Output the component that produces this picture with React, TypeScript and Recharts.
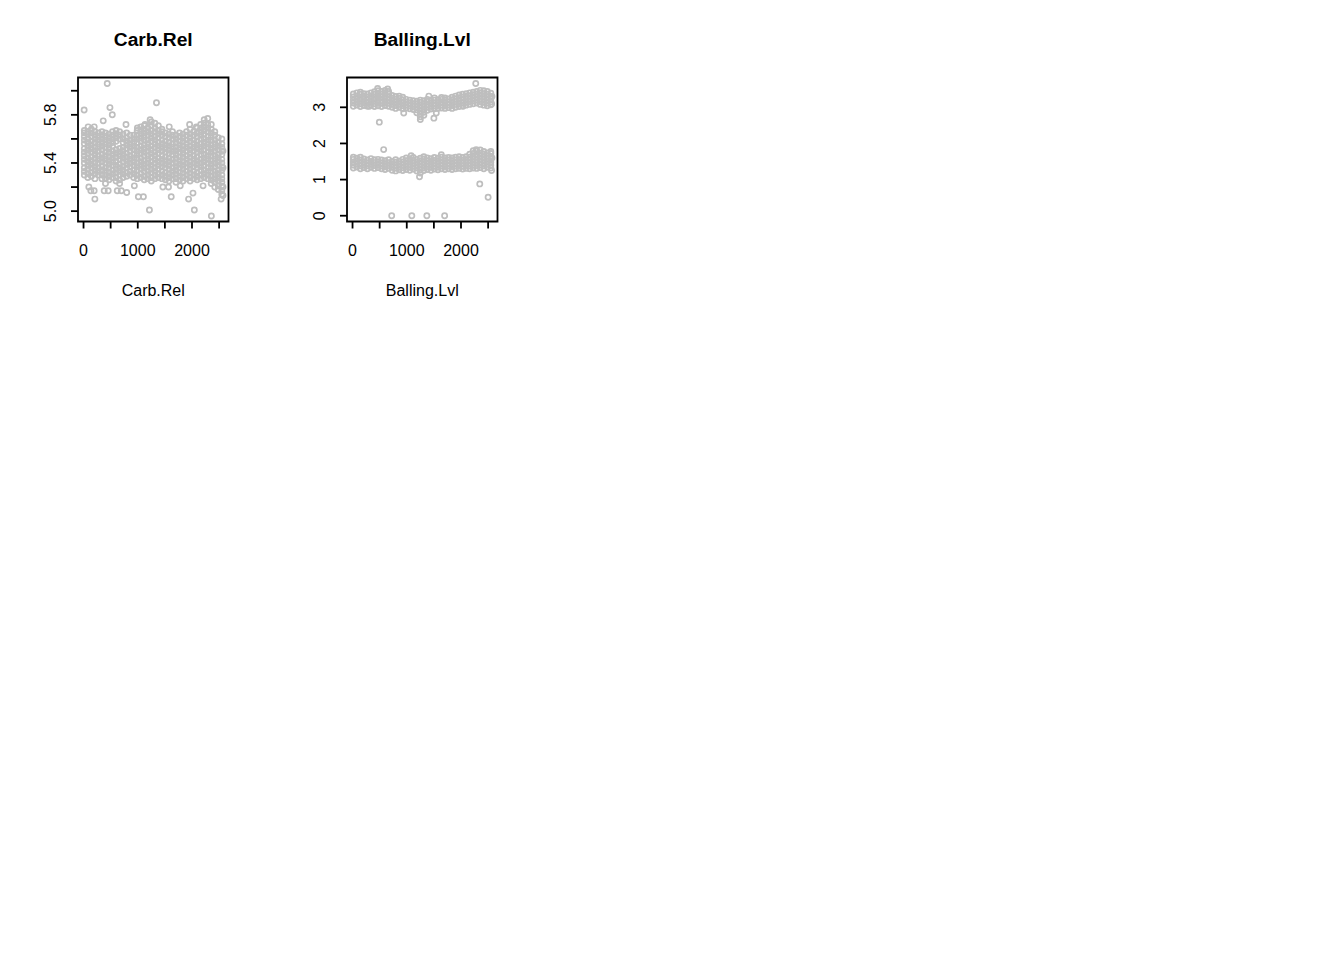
import React from "react"
import { ReferenceArea, Scatter, ScatterChart, XAxis, YAxis } from "recharts"

// row index of the observation (x) shared by both panels
const xTicks = [0, 500, 1000, 1500, 2000, 2500]
const xTickLabels = ["0", "", "1000", "", "2000", ""]
const xDomain: [number, number] = [-102, 2673]

// columns of the dense cloud: index position and the values stacked at it
const colIdx = [
  15, 80, 145, 210, 275, 340, 405, 470, 535, 600, 665, 730, 795, 860, 925, 990, 1055, 1120, 1185, 1250,
  1315, 1380, 1445, 1510, 1575, 1640, 1705, 1770, 1835, 1900, 1965, 2030, 2095, 2160, 2225, 2290, 2355,
  2420, 2485, 2550,
]

const carbCols = [
  [5.3, 5.33, 5.36, 5.4, 5.43, 5.46, 5.49, 5.52, 5.56, 5.59, 5.62, 5.65, 5.67],
  [5.28, 5.31, 5.35, 5.38, 5.41, 5.44, 5.48, 5.51, 5.54, 5.57, 5.6, 5.64, 5.66],
  [5.29, 5.32, 5.36, 5.39, 5.42, 5.45, 5.49, 5.52, 5.55, 5.58, 5.62, 5.65, 5.68],
  [5.27, 5.31, 5.34, 5.37, 5.4, 5.44, 5.47, 5.5, 5.53, 5.57, 5.6, 5.63, 5.66],
  [5.3, 5.33, 5.36, 5.4, 5.43, 5.46, 5.5, 5.53, 5.56, 5.59, 5.62, 5.65],
  [5.27, 5.3, 5.34, 5.37, 5.41, 5.44, 5.47, 5.51, 5.54, 5.57, 5.6, 5.63, 5.66],
  [5.23, 5.27, 5.3, 5.33, 5.36, 5.4, 5.43, 5.46, 5.49, 5.53, 5.56, 5.59, 5.62, 5.65],
  [5.26, 5.29, 5.32, 5.36, 5.39, 5.42, 5.45, 5.49, 5.52, 5.55, 5.58, 5.61, 5.64],
  [5.28, 5.31, 5.34, 5.38, 5.41, 5.44, 5.47, 5.5, 5.54, 5.57, 5.6, 5.63, 5.66],
  [5.25, 5.28, 5.32, 5.35, 5.38, 5.41, 5.45, 5.48, 5.51, 5.58, 5.61, 5.64, 5.67],
  [5.23, 5.26, 5.3, 5.33, 5.36, 5.39, 5.43, 5.46, 5.49, 5.52, 5.6, 5.63, 5.66],
  [5.28, 5.31, 5.34, 5.37, 5.41, 5.44, 5.47, 5.5, 5.53, 5.57, 5.6, 5.64],
  [5.29, 5.32, 5.36, 5.39, 5.42, 5.45, 5.48, 5.52, 5.55, 5.58, 5.61, 5.65],
  [5.3, 5.33, 5.37, 5.4, 5.43, 5.46, 5.5, 5.53, 5.56, 5.59, 5.63],
  [5.28, 5.31, 5.34, 5.38, 5.41, 5.44, 5.47, 5.51, 5.54, 5.57, 5.6, 5.63],
  [5.27, 5.3, 5.34, 5.37, 5.4, 5.44, 5.47, 5.5, 5.53, 5.57, 5.6, 5.63, 5.67],
  [5.28, 5.31, 5.35, 5.38, 5.41, 5.44, 5.48, 5.51, 5.54, 5.58, 5.61, 5.64, 5.67, 5.7],
  [5.26, 5.29, 5.33, 5.36, 5.39, 5.42, 5.46, 5.49, 5.52, 5.55, 5.59, 5.62, 5.65, 5.68, 5.71],
  [5.27, 5.3, 5.33, 5.37, 5.4, 5.43, 5.46, 5.5, 5.53, 5.56, 5.59, 5.63, 5.66, 5.69],
  [5.25, 5.28, 5.32, 5.35, 5.38, 5.41, 5.45, 5.48, 5.51, 5.54, 5.58, 5.61, 5.64, 5.67, 5.71, 5.74],
  [5.27, 5.3, 5.33, 5.36, 5.4, 5.43, 5.46, 5.49, 5.53, 5.56, 5.59, 5.62, 5.66, 5.69, 5.73],
  [5.28, 5.31, 5.35, 5.38, 5.41, 5.44, 5.48, 5.51, 5.54, 5.57, 5.61, 5.64, 5.67, 5.71],
  [5.27, 5.3, 5.33, 5.37, 5.4, 5.43, 5.46, 5.5, 5.53, 5.56, 5.59, 5.63, 5.66, 5.68],
  [5.26, 5.29, 5.32, 5.36, 5.39, 5.42, 5.45, 5.49, 5.52, 5.55, 5.58, 5.62, 5.65],
  [5.25, 5.28, 5.31, 5.35, 5.38, 5.41, 5.44, 5.48, 5.51, 5.54, 5.57, 5.61, 5.64],
  [5.27, 5.3, 5.33, 5.36, 5.4, 5.43, 5.47, 5.5, 5.53, 5.56, 5.6, 5.63, 5.66],
  [5.24, 5.27, 5.31, 5.34, 5.37, 5.4, 5.44, 5.47, 5.5, 5.53, 5.57, 5.6, 5.63],
  [5.26, 5.29, 5.32, 5.36, 5.39, 5.42, 5.45, 5.49, 5.52, 5.55, 5.58, 5.62, 5.65],
  [5.25, 5.28, 5.32, 5.35, 5.38, 5.41, 5.45, 5.48, 5.51, 5.54, 5.58, 5.61, 5.64],
  [5.27, 5.3, 5.33, 5.37, 5.4, 5.43, 5.46, 5.5, 5.53, 5.56, 5.59, 5.63, 5.66],
  [5.25, 5.28, 5.32, 5.35, 5.38, 5.41, 5.45, 5.48, 5.51, 5.54, 5.58, 5.61, 5.64, 5.68],
  [5.27, 5.3, 5.33, 5.37, 5.4, 5.43, 5.46, 5.5, 5.53, 5.56, 5.59, 5.63, 5.66],
  [5.26, 5.29, 5.32, 5.36, 5.39, 5.42, 5.45, 5.49, 5.52, 5.55, 5.58, 5.62, 5.65, 5.69],
  [5.27, 5.3, 5.34, 5.37, 5.4, 5.43, 5.47, 5.5, 5.53, 5.56, 5.6, 5.63, 5.66, 5.69, 5.72],
  [5.28, 5.31, 5.34, 5.38, 5.41, 5.44, 5.47, 5.51, 5.54, 5.57, 5.6, 5.64, 5.67, 5.7, 5.73, 5.76],
  [5.27, 5.3, 5.33, 5.36, 5.4, 5.43, 5.46, 5.49, 5.53, 5.56, 5.59, 5.62, 5.66, 5.69, 5.72, 5.77],
  [5.23, 5.26, 5.29, 5.33, 5.36, 5.39, 5.42, 5.46, 5.49, 5.52, 5.55, 5.59, 5.62, 5.65, 5.68, 5.72],
  [5.2, 5.24, 5.27, 5.3, 5.33, 5.37, 5.4, 5.43, 5.46, 5.5, 5.53, 5.56, 5.59, 5.63, 5.66],
  [5.18, 5.21, 5.25, 5.28, 5.31, 5.34, 5.38, 5.41, 5.44, 5.47, 5.51, 5.54, 5.57, 5.61],
  [5.14, 5.17, 5.21, 5.24, 5.27, 5.3, 5.34, 5.37, 5.4, 5.43, 5.47, 5.5, 5.53, 5.56, 5.6],
]

const carbOutIdx = [
  437, 11, 487, 530, 1345, 363, 783, 209, 135, 196, 381, 455, 622, 696, 796, 1011, 1104, 1215, 1617, 1937,
  2043, 2357, 2537, 2571, 937, 1463, 1567, 1783, 2018, 2204, 1956, 2080, 993, 1135, 1228, 1580, 85, 197,
  98, 2571, 2571, 2571,
]
const carbOutVal = [
  6.06, 5.84, 5.86, 5.8, 5.9, 5.75, 5.72, 5.1, 5.17, 5.17, 5.17, 5.17, 5.17, 5.17, 5.155, 5.12, 5.12, 5.01,
  5.12, 5.1, 5.01, 4.96, 5.1, 5.13, 5.21, 5.2, 5.2, 5.21, 5.15, 5.21, 5.72, 5.7, 5.69, 5.72, 5.76, 5.7, 5.7,
  5.7, 5.2, 5.2, 5.36, 5.5,
]

const carbYTicks = [5.0, 5.2, 5.4, 5.6, 5.8, 6.0]
const carbYLabels = ["5.0", "", "5.4", "", "5.8", ""]
const carbYDomain: [number, number] = [4.914, 6.11]

const ballUpperCols = [
  [3.03, 3.12, 3.2, 3.29, 3.37],
  [3.06, 3.14, 3.23, 3.31, 3.4],
  [3.02, 3.1, 3.19, 3.27, 3.36, 3.42],
  [3.05, 3.13, 3.22, 3.3, 3.38],
  [3.03, 3.11, 3.2, 3.28, 3.37],
  [3.06, 3.14, 3.23, 3.31, 3.4],
  [3.02, 3.1, 3.19, 3.27, 3.36, 3.43],
  [3.04, 3.13, 3.21, 3.3, 3.38, 3.46],
  [3.02, 3.11, 3.19, 3.28, 3.36, 3.44],
  [3.05, 3.13, 3.22, 3.3, 3.39, 3.47],
  [3.03, 3.11, 3.2, 3.28, 3.37, 3.44],
  [3.0, 3.08, 3.17, 3.25, 3.33],
  [2.97, 3.05, 3.14, 3.22, 3.3],
  [3.0, 3.08, 3.17, 3.25, 3.31],
  [2.96, 3.04, 3.13, 3.21, 3.28],
  [2.98, 3.06, 3.15, 3.22],
  [2.96, 3.04, 3.12, 3.2],
  [2.94, 3.02, 3.1, 3.18],
  [2.85, 2.93, 3.01, 3.09, 3.17],
  [2.66, 2.74, 2.82, 2.9, 2.98, 3.06, 3.14, 3.2],
  [2.78, 2.86, 2.94, 3.02, 3.1, 3.18],
  [2.92, 3.0, 3.08, 3.16, 3.22],
  [2.95, 3.03, 3.11, 3.19],
  [2.96, 3.04, 3.12, 3.2, 3.26],
  [2.97, 3.05, 3.13, 3.21],
  [2.98, 3.06, 3.14, 3.22, 3.27],
  [2.97, 3.05, 3.13, 3.21, 3.26],
  [2.99, 3.07, 3.15, 3.23],
  [2.97, 3.05, 3.13, 3.21, 3.28],
  [3.0, 3.08, 3.16, 3.24, 3.31],
  [3.02, 3.1, 3.18, 3.26, 3.34],
  [3.04, 3.12, 3.2, 3.28, 3.36],
  [3.06, 3.14, 3.22, 3.3, 3.38],
  [3.08, 3.16, 3.24, 3.32, 3.4],
  [3.1, 3.18, 3.26, 3.34, 3.42],
  [3.12, 3.2, 3.28, 3.36, 3.44],
  [3.08, 3.16, 3.24, 3.32, 3.4, 3.47],
  [3.06, 3.14, 3.22, 3.3, 3.38, 3.46],
  [3.04, 3.12, 3.2, 3.28, 3.36, 3.44],
  [3.07, 3.15, 3.23, 3.31, 3.39],
]

const ballLowerCols = [
  [1.32, 1.4, 1.48, 1.56, 1.62],
  [1.35, 1.43, 1.51, 1.59],
  [1.3, 1.38, 1.46, 1.54, 1.62],
  [1.33, 1.41, 1.49, 1.57],
  [1.3, 1.38, 1.46, 1.54],
  [1.34, 1.42, 1.5, 1.58],
  [1.31, 1.39, 1.47, 1.55],
  [1.33, 1.41, 1.49, 1.56],
  [1.3, 1.38, 1.46, 1.54],
  [1.28, 1.36, 1.44, 1.52],
  [1.31, 1.39, 1.47, 1.55],
  [1.26, 1.34, 1.42, 1.5],
  [1.24, 1.32, 1.4, 1.48, 1.55],
  [1.27, 1.35, 1.43, 1.51],
  [1.25, 1.33, 1.41, 1.49, 1.56],
  [1.28, 1.36, 1.44, 1.52, 1.6],
  [1.26, 1.34, 1.42, 1.5, 1.58],
  [1.29, 1.37, 1.45, 1.53, 1.61],
  [1.24, 1.32, 1.4, 1.48, 1.56],
  [1.18, 1.27, 1.35, 1.43, 1.51, 1.59],
  [1.25, 1.33, 1.41, 1.49, 1.57, 1.63],
  [1.28, 1.36, 1.44, 1.52, 1.6],
  [1.26, 1.34, 1.42, 1.5, 1.58],
  [1.29, 1.37, 1.45, 1.53, 1.61],
  [1.27, 1.35, 1.43, 1.51, 1.59],
  [1.3, 1.38, 1.46, 1.54, 1.62],
  [1.28, 1.36, 1.44, 1.52, 1.6],
  [1.3, 1.38, 1.46, 1.54, 1.61],
  [1.28, 1.36, 1.44, 1.52, 1.6],
  [1.3, 1.38, 1.46, 1.54, 1.62],
  [1.31, 1.39, 1.47, 1.55, 1.63],
  [1.29, 1.37, 1.45, 1.53, 1.61],
  [1.31, 1.39, 1.47, 1.55, 1.63],
  [1.3, 1.38, 1.46, 1.54, 1.62, 1.7],
  [1.32, 1.4, 1.48, 1.56, 1.64, 1.72, 1.8],
  [1.31, 1.39, 1.47, 1.55, 1.63, 1.71, 1.8],
  [1.33, 1.41, 1.49, 1.57, 1.65, 1.73, 1.82],
  [1.3, 1.38, 1.46, 1.54, 1.62, 1.7, 1.78],
  [1.34, 1.42, 1.5, 1.58, 1.66, 1.74],
  [1.32, 1.4, 1.48, 1.56, 1.64, 1.72, 1.78],
]

const ballOutIdx = [
  722, 1093, 1370, 1698, 494, 2346, 2500, 2563, 2565, 2272, 574, 944, 1407, 1544, 1500, 1235, 1637, 1081,
  648, 463, 309, 2037, 2280, 2571, 2571,
]
const ballOutVal = [
  0, 0, 0, 0, 2.59, 0.88, 0.51, 1.25, 3.09, 3.66, 1.83, 2.84, 3.31, 2.84, 2.7, 1.08, 1.69, 1.66, 3.51, 3.52,
  3.03, 3.03, 1.83, 1.6, 3.3,
]

const ballYTicks = [0, 1, 2, 3]
const ballYLabels = ["0", "1", "2", "3"]
const ballYDomain: [number, number] = [-0.16, 3.825]

type Pt = { x: number; y: number }

const toCloud = (cols: number[][]): Pt[] => colIdx.flatMap((i, k) => cols[k].map((v) => ({ x: i, y: v })))
const toPoints = (idx: number[], vals: number[]): Pt[] => idx.map((i, k) => ({ x: i, y: vals[k] }))

const FONT = "'Liberation Sans', Arial, Helvetica, sans-serif"
const GRAY = "#bebebe"
const PLOT_W = 150.5
const PLOT_H = 144
const TOP = 77.5
const AXIS_W = 50
const AXIS_H = 50
const CHART_W = 270
const CHART_H = 320
const PLOT_LEFT = 78 // plot left edge inside each panel

const ring = (props: any) => (
  <circle cx={props.cx} cy={props.cy} r={2.6} fill="none" stroke={GRAY} strokeWidth={1.7} />
)

function YTick({ x, y, index, labels }: any) {
  const label = labels[index]
  if (!label) return <g />
  return (
    <text
      x={x}
      y={y}
      transform={`rotate(-90 ${x} ${y})`}
      textAnchor="middle"
      fontSize={16}
      fontFamily={FONT}
      fill="#000"
    >
      {label}
    </text>
  )
}

interface PanelProps {
  left: number
  title: string
  cloud: Pt[]
  outliers: Pt[]
  yDomain: [number, number]
  yTicks: number[]
  yLabels: string[]
}

function Panel({ left, title, cloud, outliers, yDomain, yTicks, yLabels }: PanelProps) {
  return (
    <div style={{ position: "absolute", left, top: 0, width: CHART_W, height: CHART_H }}>
      <div
        style={{
          position: "absolute",
          left: PLOT_LEFT,
          width: PLOT_W,
          top: 28,
          lineHeight: "24px",
          textAlign: "center",
          fontFamily: FONT,
          fontWeight: "bold",
          fontSize: 19.2,
          color: "#000",
        }}
      >
        {title}
      </div>
      <ScatterChart
        width={CHART_W}
        height={CHART_H}
        margin={{
          top: TOP,
          left: PLOT_LEFT - AXIS_W,
          right: CHART_W - PLOT_LEFT - PLOT_W,
          bottom: CHART_H - TOP - PLOT_H - AXIS_H,
        }}
      >
        <XAxis
          type="number"
          dataKey="x"
          domain={xDomain}
          allowDataOverflow
          ticks={xTicks}
          interval={0}
          height={AXIS_H}
          axisLine={false}
          stroke="#000"
          tickLine={{ stroke: "#000", strokeWidth: 1.8 }}
          tickSize={7}
          tickMargin={16}
          tick={{ fill: "#000", fontSize: 16, fontFamily: FONT }}
          tickFormatter={(v: number) => xTickLabels[xTicks.indexOf(v)] ?? ""}
        />
        <YAxis
          type="number"
          dataKey="y"
          domain={yDomain}
          allowDataOverflow
          ticks={yTicks}
          interval={0}
          width={AXIS_W}
          axisLine={false}
          stroke="#000"
          tickLine={{ stroke: "#000", strokeWidth: 1.8 }}
          tickSize={7}
          tickMargin={15}
          tick={(p: any) => <YTick {...p} labels={yLabels} />}
        />
        <Scatter data={cloud} shape={ring} isAnimationActive={false} />
        <Scatter data={outliers} shape={ring} isAnimationActive={false} />
        <ReferenceArea
          x1={xDomain[0]}
          x2={xDomain[1]}
          y1={yDomain[0]}
          y2={yDomain[1]}
          fill="none"
          fillOpacity={0}
          stroke="#000"
          strokeWidth={1.8}
          ifOverflow="visible"
        />
      </ScatterChart>
      <div
        style={{
          position: "absolute",
          left: PLOT_LEFT,
          width: PLOT_W,
          top: 279,
          lineHeight: "24px",
          textAlign: "center",
          fontFamily: FONT,
          fontSize: 16,
          color: "#000",
        }}
      >
        {title}
      </div>
    </div>
  )
}

export default function App() {
  return (
    <div style={{ position: "absolute", left: 0, top: 0, width: 1344, height: 960, background: "#fff" }}>
      <Panel
        left={0}
        title="Carb.Rel"
        cloud={toCloud(carbCols)}
        outliers={toPoints(carbOutIdx, carbOutVal)}
        yDomain={carbYDomain}
        yTicks={carbYTicks}
        yLabels={carbYLabels}
      />
      <Panel
        left={269}
        title="Balling.Lvl"
        cloud={[...toCloud(ballUpperCols), ...toCloud(ballLowerCols)]}
        outliers={toPoints(ballOutIdx, ballOutVal)}
        yDomain={ballYDomain}
        yTicks={ballYTicks}
        yLabels={ballYLabels}
      />
    </div>
  )
}
